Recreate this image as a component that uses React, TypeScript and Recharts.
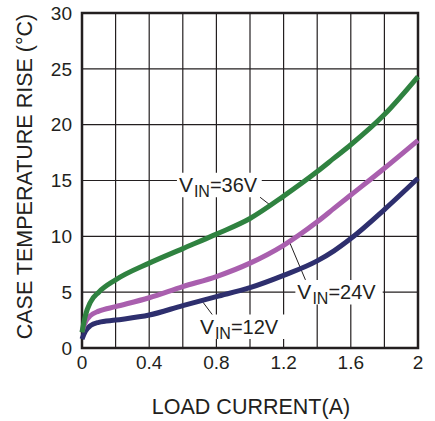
import React from 'react';
import {
  LineChart, Line, XAxis, YAxis, CartesianGrid, ReferenceArea, ReferenceLine, Label,
} from 'recharts';

const currentA = [0, 0.02, 0.05, 0.1, 0.2, 0.4, 0.6, 0.8, 1.0, 1.2, 1.4, 1.5, 1.6, 1.8, 2.0];
const rise36V = [1.4, 2.9, 4.1, 5.0, 6.1, 7.6, 8.9, 10.2, 11.6, 13.6, 15.8, 17.0, 18.2, 20.9, 24.3];
const rise24V = [1.5, 2.3, 2.9, 3.3, 3.7, 4.5, 5.5, 6.4, 7.6, 9.2, 11.3, 12.5, 13.7, 16.1, 18.6];
const rise12V = [0.8, 1.5, 2.0, 2.3, 2.5, 2.95, 3.8, 4.6, 5.4, 6.5, 7.8, 8.7, 9.8, 12.4, 15.2];

const xTicks = [0, 0.2, 0.4, 0.6, 0.8, 1.0, 1.2, 1.4, 1.6, 1.8, 2.0];
const yTicks = [0, 5, 10, 15, 20, 25, 30];

const xTitle = 'LOAD CURRENT(A)';
const yTitle = 'CASE TEMPERATURE RISE (°C)';

const labels36 = { main: 'V', sub: 'IN', rest: '=36V' };
const labels24 = { main: 'V', sub: 'IN', rest: '=24V' };
const labels12 = { main: 'V', sub: 'IN', rest: '=12V' };

const data = currentA.map((x, i) => ({
  x,
  v36: rise36V[i],
  v24: rise24V[i],
  v12: rise12V[i],
}));

const INK = '#231f20';
const FONT = '"Liberation Sans", Arial, Helvetica, sans-serif';

const vinLabel = (t: { main: string; sub: string; rest: string }) => (props: any) => {
  const vb = props.viewBox || {};
  const x = vb.x + 2;
  const y = vb.y + 19;
  return (
    <text x={x} y={y} fill={INK} fontFamily={FONT} fontSize={20}>
      <tspan fontSize={21}>{t.main}</tspan>
      <tspan fontSize={16} dy={5} dx={1}>{t.sub}</tspan>
      <tspan fontSize={20} dy={-5}>{t.rest}</tspan>
    </text>
  );
};

const XTitle = (props: any) => {
  const vb = props.viewBox || {};
  return (
    <text x={vb.x + vb.width / 2 + 1} y={vb.y + vb.height + 36} textAnchor="middle"
      fill={INK} fontFamily={FONT} fontSize={21.5}>{xTitle}</text>
  );
};

const YTitle = (props: any) => {
  const vb = props.viewBox || {};
  const cx = vb.x + 25;
  const cy = vb.y + vb.height / 2 - 4;
  return (
    <text x={cx} y={cy} textAnchor="middle" dominantBaseline="central"
      transform={`rotate(-90 ${cx} ${cy})`}
      fill={INK} fontFamily={FONT} fontSize={21.5}>{yTitle}</text>
  );
};

export default function App() {
  return (
    <div style={{ position: 'absolute', left: 0, top: 0, background: '#fff' }}>
      <LineChart width={435} height={421} data={data}
        margin={{ top: 13, right: 17, bottom: 43, left: 0 }}>
        <CartesianGrid stroke={INK} strokeWidth={1.2} />
        <XAxis dataKey="x" type="number" domain={[0, 2]} ticks={xTicks} interval={0}
          height={30} tickLine={false} axisLine={false}
          tick={{ fill: INK, fontSize: 19, fontFamily: FONT }}
          tickFormatter={(v: number) => (Math.round(v * 10) % 4 === 0 ? String(v) : '')}>
          <Label content={XTitle} />
        </XAxis>
        <YAxis type="number" domain={[0, 30]} ticks={yTicks} interval={0} width={82}
          tickLine={false} axisLine={false} tickMargin={4}
          tick={{ fill: INK, fontSize: 19, fontFamily: FONT }}>
          <Label content={YTitle} />
        </YAxis>
        <ReferenceArea x1={0} x2={2} y1={0} y2={30} fill="none" fillOpacity={0}
          stroke={INK} strokeWidth={2.5} />
        <ReferenceArea x1={0.565} x2={1.07} y1={13.5} y2={15.7} fill="#fff" fillOpacity={1}
          stroke="none" label={vinLabel(labels36)} />
        <ReferenceArea x1={1.27} x2={1.79} y1={3.9} y2={6.1} fill="#fff" fillOpacity={1}
          stroke="none" label={vinLabel(labels24)} />
        <ReferenceArea x1={0.69} x2={1.21} y1={0.8} y2={3.0} fill="#fff" fillOpacity={1}
          stroke="none" label={vinLabel(labels12)} />
        <ReferenceLine segment={[{ x: 1.06, y: 13.5 }, { x: 1.12, y: 12.8 }]} stroke={INK} strokeWidth={1} />
        <ReferenceLine segment={[{ x: 1.232, y: 9.6 }, { x: 1.33, y: 6.1 }]} stroke={INK} strokeWidth={1} />
        <ReferenceLine segment={[{ x: 0.72, y: 4.1 }, { x: 0.775, y: 3.0 }]} stroke={INK} strokeWidth={1} />
        <Line type="monotone" dataKey="v12" stroke="#2e2f6e" strokeWidth={5} dot={false} isAnimationActive={false} />
        <Line type="monotone" dataKey="v24" stroke="#a95fae" strokeWidth={5} dot={false} isAnimationActive={false} />
        <Line type="monotone" dataKey="v36" stroke="#2f8240" strokeWidth={5} dot={false} isAnimationActive={false} />
      </LineChart>
    </div>
  );
}
